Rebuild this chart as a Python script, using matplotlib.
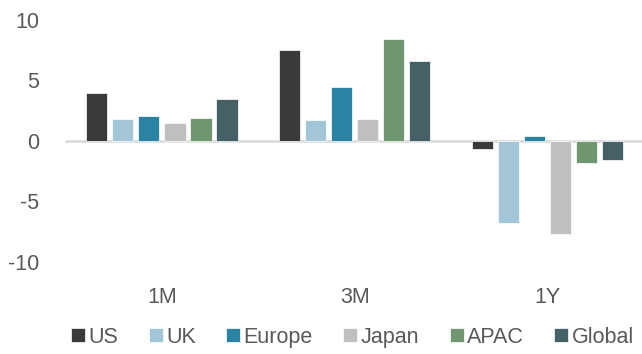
"""Grouped bar chart of regional returns over three horizons."""

from matplotlib import pyplot as plt
import numpy as np

plt.rcParams["font.family"] = ["Liberation Sans", "DejaVu Sans"]

# Data.
periods = ["1M", "3M", "1Y"]
regions = ["US", "UK", "Europe", "Japan", "APAC", "Global"]
us = [3.95, 7.5, -0.7]
uk = [1.8, 1.7, -6.8]
europe = [2.1, 4.45, 0.4]
japan = [1.45, 1.8, -7.7]
apac = [1.9, 8.45, -1.8]
global_ = [3.45, 6.65, -1.6]
yticks = [-10, -5, 0, 5, 10]

series = [us, uk, europe, japan, apac, global_]
colours = ["#3a3a3a", "#a3c6d6", "#2b83a3", "#bfbfbf", "#70976f", "#456166"]
textColour = "#595959"

fig = plt.figure(figsize=(6.42, 3.54), dpi=100)
axes = fig.add_axes([0.102, 0.26, 0.898, 0.6835])

x = np.arange(len(periods))
step = 0.135
barWidth = 0.11
offsets = (np.arange(len(regions)) - (len(regions) - 1) / 2) * step
for values, name, colour, offset in zip(series, regions, colours, offsets):
    axes.bar(x + offset, values, width=barWidth, color=colour, label=name,
             edgecolor="white", linewidth=0.5, zorder=2)

# Zero line in place of the axis spines.
axes.axhline(0, color="#d9d9d9", linewidth=1.8, zorder=1)
for spine in axes.spines.values():
    spine.set_visible(False)

axes.set_xlim(-0.5, 2.49)
axes.set_ylim(-10, 10)
axes.set_yticks(yticks)
axes.set_yticklabels([str(t) for t in yticks])
axes.set_xticks(x)
axes.set_xticklabels(periods)
axes.tick_params(axis="y", length=0, pad=19, labelsize=15.5, labelcolor=textColour)
axes.tick_params(axis="x", length=0, pad=18, labelsize=15.5, labelcolor=textColour)

fig.legend(loc="center", bbox_to_anchor=(0.549, 0.047), ncol=6, frameon=False,
           fontsize=15.5, labelcolor=textColour, handlelength=0.65, handleheight=0.65,
           handletextpad=0.15, columnspacing=1.42, borderaxespad=0)

fig.savefig("out.png", dpi=100)
